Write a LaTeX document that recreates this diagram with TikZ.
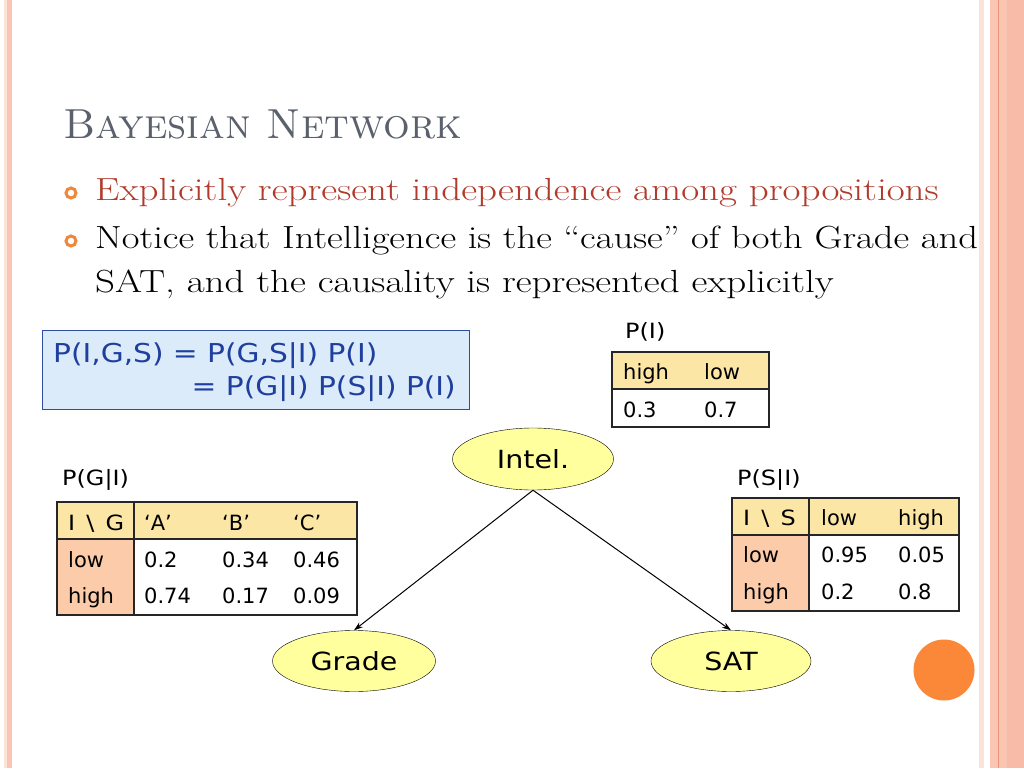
\documentclass[tikz,border=0pt]{standalone}
\usepackage{fontspec}
\newfontfamily\comic{DejaVu Sans}
\newfontfamily\comicwide{DejaVu Sans}[FakeStretch=1.14]
\newfontfamily\slidefont{Latin Modern Roman}[Ligatures=TeX,FakeStretch=1.22]
\newfontfamily\slidefontnarrow{Latin Modern Roman}[Ligatures=TeX,FakeStretch=1.205]
\usetikzlibrary{shapes.geometric,arrows.meta}
\definecolor{titlegray}{HTML}{5A606C}
\definecolor{pointred}{HTML}{B13A2B}
\definecolor{ringorange}{HTML}{F0883C}
\definecolor{dotorange}{HTML}{FB8838}
\definecolor{edgepink}{HTML}{FAC5B3}
\definecolor{edgepale}{HTML}{FCE3D8}
\definecolor{edgedark}{HTML}{E99478}
\definecolor{boxfill}{HTML}{DCEBFA}
\definecolor{boxline}{HTML}{2F4F9E}
\definecolor{formulablue}{HTML}{1F3F9E}
\definecolor{headfill}{HTML}{FBE6A6}
\definecolor{rowfill}{HTML}{FCCCAA}
\definecolor{nodeyellow}{HTML}{FFFF9E}
\begin{document}
\begin{tikzpicture}[x=1pt,y=-1pt,
    bnode/.style={ellipse,draw,fill=nodeyellow,inner sep=0pt,font=\comicwide\fontsize{25}{25}\selectfont},
    cell/.style={anchor=base west,inner sep=0pt,font=\comic\fontsize{21}{21}\selectfont},
    tablelabel/.style={anchor=base west,inner sep=0pt,font=\comicwide\fontsize{21}{21}\selectfont},
    slidetext/.style={anchor=base west,inner sep=0pt,font=\slidefont\fontsize{32}{32}\selectfont},
    ring/.style={draw=ringorange,line width=3pt},
    grid/.style={draw=black!85,line width=1.3pt}]
    \useasboundingbox (0,0) rectangle (1024,768);
    \fill[white] (0,0) rectangle (1024,768);
    % slide edges
    \fill[edgepale] (4,0) rectangle (7,768);
    \fill[edgepink] (7,0) rectangle (12,768);
    \fill[edgepale] (979,0) rectangle (984,768);
    \fill[edgepink] (990,0) rectangle (1024,768);
    \draw[edgedark,line width=1pt] (998,0) -- (998,768);
    \fill[edgepink!80!edgedark] (1007,0) rectangle (1024,768);

    % title and points
    \node[anchor=base west,inner sep=0pt,text=titlegray,font=\fontsize{42}{42}\selectfont] (title) at (63,138) {\textsc{Bayesian Network}};
    \draw[ring] (71,193) circle[radius=5];
    \node[slidetext,text=pointred] (pointa) at (95,200) {Explicitly represent independence among propositions};
    \draw[ring] (71,241) circle[radius=5];
    \node[slidetext,font=\slidefontnarrow\fontsize{32}{32}\selectfont] (pointb) at (95,248) {Notice that Intelligence is the “cause” of both Grade and};
    \node[slidetext] (pointc) at (95,292) {SAT, and the causality is represented explicitly};

    % joint distribution
    \node[draw=boxline,fill=boxfill,line width=1pt,anchor=north west,minimum width=427pt,minimum height=79pt,inner sep=0pt] (joint) at (42,330) {};
    \node[anchor=base west,inner sep=0pt,text=formulablue,font=\comicwide\fontsize{26}{26}\selectfont] (jointa) at (53,362) {P(I,G,S) = P(G,S|I) P(I)};
    \node[anchor=base east,inner sep=0pt,text=formulablue,font=\comicwide\fontsize{26}{26}\selectfont] (jointb) at (456,395) {= P(G|I) P(S|I) P(I)};

    % P(I)
    \node[tablelabel] (pilabel) at (625,338) {P(I)};
    \fill[headfill] (612,352) rectangle (769,389);
    \draw[grid] (612,352) rectangle (769,427);
    \draw[grid] (612,389) -- (769,389);
    \node[cell] (pihigh) at (623,379) {high};
    \node[cell] (pilow) at (704,379) {low};
    \node[cell] (pia) at (623,417) {0.3};
    \node[cell] (pib) at (704,417) {0.7};

    % P(G|I)
    \node[tablelabel] (pglabel) at (62,485) {P(G|I)};
    \fill[headfill] (57,502) rectangle (357,539);
    \fill[rowfill] (57,539) rectangle (134,615);
    \draw[grid] (57,502) rectangle (357,615);
    \draw[grid] (57,539) -- (357,539);
    \draw[grid] (134,502) -- (134,615);
    \node[tablelabel] (pgcorner) at (68,530) {I \,\textbackslash\, G};
    \node[cell] (pgA) at (144,530) {‘A’};
    \node[cell] (pgB) at (222,530) {‘B’};
    \node[cell] (pgC) at (293,530) {‘C’};
    \node[cell] (pglow) at (68,567) {low};
    \node[cell] (pgla) at (144,567) {0.2};
    \node[cell] (pglb) at (222,567) {0.34};
    \node[cell] (pglc) at (293,567) {0.46};
    \node[cell] (pghigh) at (68,603) {high};
    \node[cell] (pgha) at (144,603) {0.74};
    \node[cell] (pghb) at (222,603) {0.17};
    \node[cell] (pghc) at (293,603) {0.09};

    % P(S|I)
    \node[tablelabel] (pslabel) at (737,485) {P(S|I)};
    \fill[headfill] (732,498) rectangle (959,535);
    \fill[rowfill] (732,535) rectangle (809,611);
    \draw[grid] (732,498) rectangle (959,611);
    \draw[grid] (732,535) -- (959,535);
    \draw[grid] (809,498) -- (809,611);
    \node[tablelabel] (pscorner) at (743,525) {I \,\textbackslash\, S};
    \node[cell] (pslowh) at (821,525) {low};
    \node[cell] (pshighh) at (898,525) {high};
    \node[cell] (pslow) at (743,562) {low};
    \node[cell] (psla) at (821,562) {0.95};
    \node[cell] (pslb) at (898,562) {0.05};
    \node[cell] (pshigh) at (743,599) {high};
    \node[cell] (psha) at (821,599) {0.2};
    \node[cell] (pshb) at (898,599) {0.8};

    % network
    \node[bnode,minimum width=161pt,minimum height=62pt] (intel) at (533,459) {Intel.};
    \node[bnode,minimum width=163pt,minimum height=61pt] (grade) at (354,661) {Grade};
    \node[bnode,minimum width=160pt,minimum height=61pt] (sat) at (731,661) {SAT};
    \draw[line width=1pt,-{Stealth[length=9pt,width=6pt]}] (intel.south) -- (grade.north);
    \draw[line width=1pt,-{Stealth[length=9pt,width=6pt]}] (intel.south) -- (sat.north);

    \fill[dotorange] (944,670) circle[radius=30.5];
\end{tikzpicture}
\end{document}
